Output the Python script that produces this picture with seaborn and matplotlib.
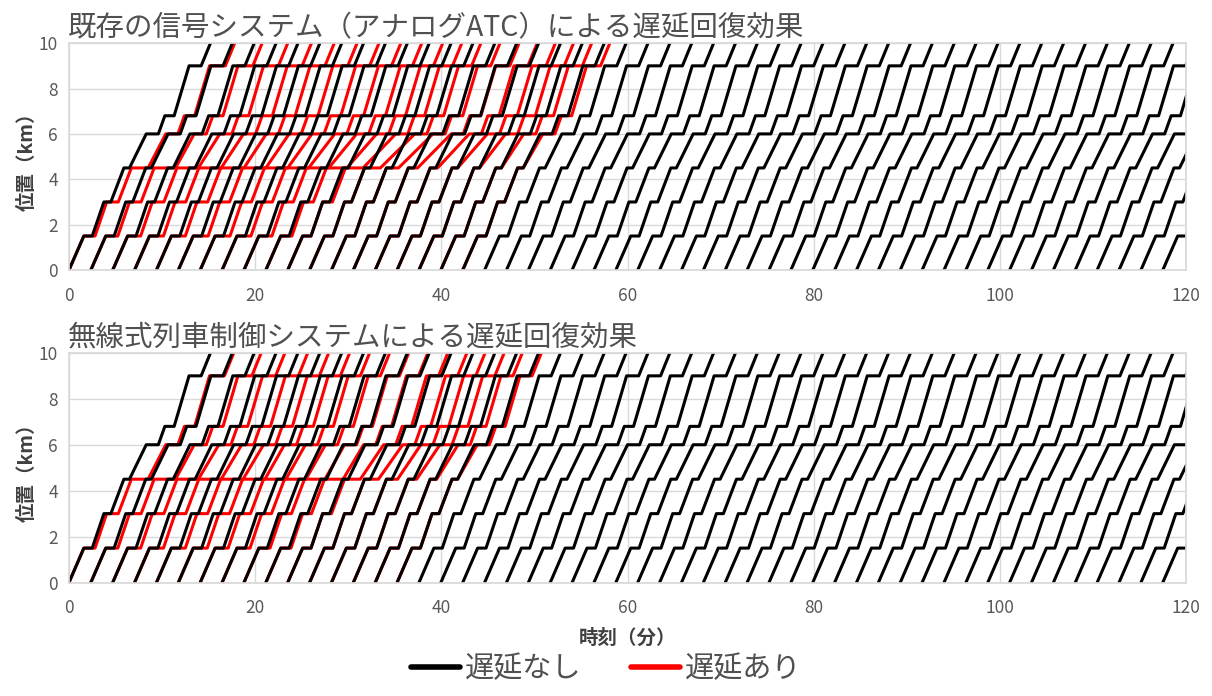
import matplotlib
matplotlib.use("Agg")
import matplotlib.pyplot as plt
from matplotlib.lines import Line2D
import seaborn as sns
import pandas as pd

# 駅位置(km)と基準ダイヤ(発車からの経過分)
stations = [0, 1.5, 3, 4.5, 6, 6.8, 9, 10]
arr_offset = [0, 1.6, 3.75, 5.9, 8.3, 10.3, 12.9, 15.2]
dep_offset = [0, 2.5, 4.5, 6.5, 9.6, 11.3, 14.2, 15.2]

# 始発駅の発車時刻(分)
departures = [0, 2.35, 4.7, 7.05, 9.4, 11.75, 14.1, 16.45, 18.8, 21.15,
              23.5, 25.85, 28.2, 30.55, 32.9, 35.25, 37.6, 39.95, 42.3, 44.65,
              47.0, 49.35, 51.7, 54.05, 56.4, 58.75, 61.1, 63.45, 65.8, 68.15,
              70.5, 72.85, 75.2, 77.55, 79.9, 82.25, 84.6, 86.95, 89.3, 91.65,
              94.0, 96.35, 98.7, 101.05, 103.4, 105.75, 108.1, 110.45, 112.8, 115.15,
              117.5]

# 遅延ありの列車: 各駅(1.5, 3, 4.5, 6, 6.8, 9km)発車時の遅れ(分)
delay_atc = [
    [0.3, 0.8, 2.0, 2.1, 2.2, 2.6],
    [0.4, 0.9, 2.6, 2.8, 2.9, 3.2],
    [0.5, 1.0, 2.7, 3.2, 3.3, 3.6],
    [0.6, 1.0, 2.8, 3.4, 3.5, 3.8],
    [0.6, 1.0, 2.9, 3.5, 3.6, 3.9],
    [0.7, 1.0, 2.9, 3.6, 3.7, 4.0],
    [0.7, 1.0, 2.9, 3.7, 3.8, 4.0],
    [0.6, 0.9, 2.8, 3.8, 3.9, 4.0],
    [0.5, 0.8, 2.6, 3.8, 3.9, 3.9],
    [0.3, 0.6, 2.2, 3.6, 3.7, 3.8],
    [0.0, 0.3, 1.6, 3.3, 3.4, 3.5],
    [0.0, 0.0, 1.1, 3.0, 3.1, 3.2],
    [0.0, 0.0, 0.7, 2.6, 2.8, 2.9],
    [0.0, 0.0, 0.4, 2.2, 2.4, 2.6],
    [0.0, 0.0, 0.2, 1.8, 2.0, 2.2],
    [0.0, 0.0, 0.0, 1.4, 1.6, 1.8],
    [0.0, 0.0, 0.0, 1.0, 1.2, 1.4],
    [0.0, 0.0, 0.0, 0.6, 0.8, 1.0],
    [0.0, 0.0, 0.0, 0.3, 0.4, 0.6],
]
delay_cbtc = [
    [0.3, 0.8, 2.0, 2.1, 2.2, 2.5],
    [0.4, 0.9, 2.6, 2.8, 2.9, 3.1],
    [0.5, 1.0, 2.7, 3.1, 3.2, 3.3],
    [0.6, 1.0, 2.8, 3.2, 3.3, 3.4],
    [0.6, 1.0, 2.8, 3.2, 3.3, 3.3],
    [0.6, 1.0, 2.8, 3.1, 3.2, 3.2],
    [0.5, 0.9, 2.7, 3.0, 3.0, 3.0],
    [0.5, 0.8, 2.5, 2.8, 2.8, 2.8],
    [0.3, 0.6, 2.2, 2.5, 2.5, 2.5],
    [0.2, 0.4, 1.8, 2.2, 2.2, 2.2],
    [0.0, 0.2, 1.3, 2.0, 2.0, 2.0],
    [0.0, 0.0, 0.9, 1.7, 1.7, 1.7],
    [0.0, 0.0, 0.6, 1.3, 1.3, 1.3],
    [0.0, 0.0, 0.3, 1.0, 1.0, 1.0],
    [0.0, 0.0, 0.1, 0.6, 0.6, 0.6],
    [0.0, 0.0, 0.0, 0.3, 0.3, 0.3],
]

titles = ["既存の信号システム（アナログATC）による遅延回復効果",
          "無線式列車制御システムによる遅延回復効果"]
label_ok = "遅延なし"
label_late = "遅延あり"

# 6km駅までは徐行で遅れを吸収する
slow_station = 4


def train_rows(t0, delays, name, label):
    d = [0] + list(delays)
    rows = []
    for s, pos in enumerate(stations):
        late_in = d[s - 1] if s > 0 else 0
        if s == slow_station:
            late_in = d[s]
        rows.append((t0 + arr_offset[s] + late_in, pos, name, label))
        if 0 < s < len(stations) - 1:
            rows.append((t0 + dep_offset[s] + d[s], pos, name, label))
    return rows


def build(delay_table):
    rows = []
    for k, t0 in enumerate(delay_table):
        rows += train_rows(departures[k], t0, f"r{k}", label_late)
    for k, t0 in enumerate(departures):
        rows += train_rows(t0, [0] * 6, f"b{k}", label_ok)
    return pd.DataFrame(rows, columns=["時刻", "位置", "列車", "系列"])


sns.set_theme(style="white")
plt.rcParams["font.family"] = ["Noto Sans CJK JP", "DejaVu Sans"]

fig = plt.figure(figsize=(12.12, 6.96), dpi=100)
ax1 = fig.add_axes([0.0569, 0.612, 0.9217, 0.326])
ax2 = fig.add_axes([0.0569, 0.163, 0.9217, 0.330])

palette = {label_ok: "black", label_late: "#ff0000"}
for ax, table, title in zip([ax1, ax2], [delay_atc, delay_cbtc], titles):
    df = build(table)
    sns.lineplot(data=df, x="時刻", y="位置", hue="系列", units="列車",
                 estimator=None, sort=False, palette=palette,
                 hue_order=[label_late, label_ok], linewidth=2.2,
                 legend=False, ax=ax)
    ax.set_xlim(0, 120)
    ax.set_ylim(0, 10)
    ax.set_xticks(range(0, 121, 20))
    ax.set_yticks(range(0, 11, 2))
    ax.grid(True, color="#d9d9d9", linewidth=1)
    for sp in ax.spines.values():
        sp.set_color("#d9d9d9")
    ax.tick_params(labelsize=12.5, labelcolor="#595959", length=0)
    ax.tick_params(axis="x", pad=12)
    ax.tick_params(axis="y", pad=8)
    ax.set_xlabel("")
    ax.set_ylabel("位置（km）", fontsize=14, fontweight="bold", color="#404040", labelpad=1)
    ax.set_title(title, loc="left", fontsize=20.5, color="#505050", pad=5, x=-0.001)

ax2.set_xlabel("時刻（分）", fontsize=14, fontweight="bold", color="#404040", labelpad=8)

handles = [Line2D([], [], color="black", lw=4), Line2D([], [], color="#ff0000", lw=4)]
fig.legend(handles, [label_ok, label_late], loc="lower center", ncol=2,
           frameon=False, fontsize=21, labelcolor="#505050",
           handlelength=1.7, handletextpad=0.15, columnspacing=1.7,
           borderpad=0.2, bbox_to_anchor=(0.5, -0.012))

fig.savefig("out.png", dpi=100)
